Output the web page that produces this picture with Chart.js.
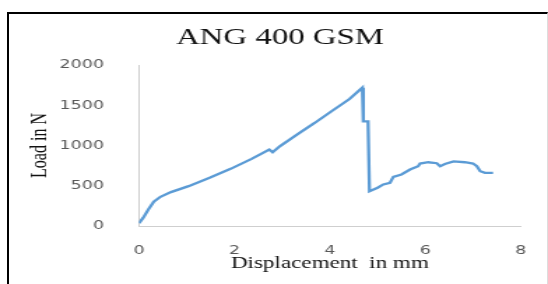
<!DOCTYPE html>
<html>
<head>
<meta charset="utf-8">
<script src="https://cdn.jsdelivr.net/npm/chart.js@4"></script>
<style>
html, body { margin: 0; padding: 0; background: #fff; overflow: hidden; }
#chart { position: absolute; left: 0; top: 0; transform-origin: 0 0; transform: scaleX(1.398); }
#frame { position: absolute; left: 7px; top: 12px; width: 538px; height: 300px;
         border-top: 2px solid #000; border-left: 2px solid #000; border-right: 1px solid #ddd; }
</style>
</head>
<body>
<canvas id="chart" width="392" height="284"></canvas>
<div id="frame"></div>
<script>
// 数据：位移 (mm) 和载荷 (N)
const displacement = [0, 0.09, 0.2, 0.31, 0.45, 0.67, 1.04, 1.48, 1.92, 2.36, 2.73, 2.8, 2.95, 3.31, 3.68, 4.05, 4.41, 4.68,
    4.70, 4.80, 4.83, 5.0, 5.12, 5.26, 5.33, 5.5, 5.68, 5.85, 5.89, 6.06, 6.24, 6.31, 6.41, 6.59, 6.83, 7.0, 7.08, 7.15, 7.25, 7.42];
const load = [35, 104, 207, 302, 363, 421, 495, 598, 710, 834, 949, 916, 990, 1135, 1280, 1432, 1577, 1718,
    1300, 1300, 433, 475, 516, 537, 611, 640, 702, 743, 776, 792, 780, 743, 770, 802, 792, 776, 743, 681, 661, 661];
const xTicks = [0, 2, 4, 6, 8];
const yTicks = [0, 500, 1000, 1500, 2000];
const chartTitle = 'ANG 400 GSM';

const points = displacement.map((d, i) => ({ x: d, y: load[i] }));

// 手动画标题，位置和原图一致
const titlePlugin = {
    id: 'titleText',
    afterDraw(chart) {
        const ctx = chart.ctx;
        ctx.save();
        ctx.font = '23.5px "Liberation Serif"';
        ctx.fillStyle = '#111';
        ctx.textAlign = 'center';
        ctx.textBaseline = 'middle';
        ctx.fillText(chartTitle, 200.3, 38);
        ctx.restore();
    }
};

const tickFont = { family: 'DejaVu Sans', size: 12.5 };

new Chart(document.getElementById('chart').getContext('2d'), {
    type: 'line',
    data: {
        datasets: [{
            data: points,
            borderColor: '#5b9bd5',
            borderWidth: 2.3,
            pointRadius: 0,
            tension: 0,
            fill: false
        }]
    },
    options: {
        responsive: false,
        animation: false,
        devicePixelRatio: 1,
        layout: { padding: { top: 65, left: 0, right: 19.5, bottom: 0 } },
        plugins: { legend: { display: false }, tooltip: { enabled: false } },
        scales: {
            x: {
                type: 'linear',
                min: 0,
                max: 8,
                afterBuildTicks: s => { s.ticks = xTicks.map(v => ({ value: v })); },
                afterFit: s => { s.height = 58; },
                grid: { display: false },
                border: { display: true, color: '#cfcfcf', width: 1 },
                ticks: { padding: 9.5, color: '#595959', font: tickFont, callback: v => String(v) },
                title: {
                    display: true,
                    text: 'Displacement  in mm',
                    color: '#111',
                    font: { family: 'Liberation Serif', size: 16.5 },
                    padding: 10.8
                }
            },
            y: {
                min: 0,
                max: 2000,
                afterBuildTicks: s => { s.ticks = yTicks.map(v => ({ value: v })); },
                afterFit: s => { s.width = 99.4; },
                grid: { display: false },
                border: { display: true, color: '#cfcfcf', width: 1 },
                ticks: { padding: 17, color: '#595959', font: tickFont, callback: v => String(v) },
                title: {
                    display: true,
                    text: 'Load in N',
                    color: '#111',
                    font: { family: 'Liberation Serif', size: 16 },
                    padding: 19
                }
            }
        }
    },
    plugins: [titlePlugin]
});
</script>
</body>
</html>
